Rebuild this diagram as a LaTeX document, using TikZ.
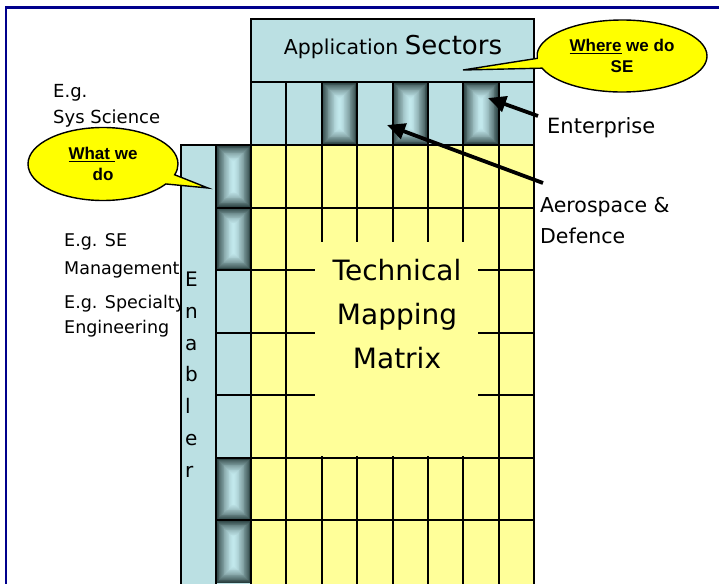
\documentclass[tikz,border=0pt]{standalone}
\usepackage{fontspec}
\setmainfont{DejaVu Sans}
\newfontfamily\calloutfont{Liberation Sans}
\usetikzlibrary{shapes.callouts,arrows.meta}
\definecolor{cellblue}{RGB}{187,224,227}
\definecolor{mtxyellow}{RGB}{255,255,153}
\definecolor{callyellow}{RGB}{255,255,0}
\definecolor{pdark}{RGB}{40,62,62}
\definecolor{plight}{RGB}{194,232,236}
\definecolor{framenavy}{RGB}{0,0,140}
\newcommand\myul[1]{\setbox0\hbox{#1}\rlap{\rule[-2.6pt]{\wd0}{1.4pt}}\box0\relax}
\newcommand\pillowcell[4]{%
  \foreach \i in {0,...,20}{%
    \pgfmathsetmacro\dd{\i*(#3-#1)/2/21}%
    \pgfmathsetmacro\pp{100*(1-\i/20)^1.45}%
    \fill[pdark!\pp!plight] ({#1+\dd},{#2+\dd}) rectangle ({#3-\dd},{#4-\dd});
  }}
\begin{document}
\begin{tikzpicture}[x=1pt,y=-1pt,
  gridline/.style={line width=2pt, draw=black},
  lbl/.style={inner sep=0pt, anchor=base west, align=left},
  arr/.style={line width=3.8pt, -{Triangle[length=18pt,width=16pt]}},
  bubble/.style={ellipse callout, fill=callyellow, draw=black, line width=1.4pt,
    inner sep=0pt, align=center, callout pointer arc=16,
    font=\calloutfont\bfseries\fontsize{17}{20.5}\selectfont}]
\path[use as bounding box] (0,0) rectangle (719,583);
\clip (0,0) rectangle (719,583);
\fill[white] (0,0) rectangle (719,583);
% frame
\draw[framenavy, line width=2.2pt] (6,590) -- (6,7.5) -- (725,7.5);
% left labels (partly hidden by the enabler column); anchored at last baseline
\node[lbl, font=\fontsize{18}{25}\selectfont] (sys) at (53,123) {E.g.\\Sys Science};
\node[lbl, font=\fontsize{17.5}{28}\selectfont] (sem) at (64,274) {E.g. SE\\Management};
\node[lbl, font=\fontsize{17.5}{25}\selectfont] (spe) at (64,333) {E.g. Specialty\\Engineering};
% enabler columns
\fill[cellblue] (181,145) rectangle (251,600);
\foreach \r in {0,1,5,6}{
  \pgfmathsetmacro\ya{145+62.57*\r}
  \pgfmathsetmacro\yb{145+62.57*(\r+1)}
  \pillowcell{216}{\ya}{251}{\yb}
}
% header and sector row
\fill[cellblue] (251,19) rectangle (534,145);
\foreach \c in {2,4,6}{
  \pgfmathsetmacro\xa{251+35.375*\c}
  \pgfmathsetmacro\xb{251+35.375*(\c+1)}
  \pillowcell{\xa}{82}{\xb}{145}
}
% matrix
\fill[mtxyellow] (251,145) rectangle (534,600);
\foreach \k in {0,...,8}
  \draw[gridline] ({251+35.375*\k},82) -- ({251+35.375*\k},600);
\foreach \r in {1,...,6}
  \draw[gridline] (216,{145+62.57*\r}) -- (534,{145+62.57*\r});
\draw[gridline] (181,600) -- (181,145) -- (534,145);
\draw[gridline] (216,145) -- (216,600);
\draw[gridline] (251,19) rectangle (534,145);
\draw[gridline] (251,82) -- (534,82);
\fill[mtxyellow] (315,242) rectangle (478,456);
% texts
\node[inner sep=0pt, anchor=base] (app) at (393,54.5)
  {\fontsize{20.5}{24}\selectfont Application \fontsize{26}{30}\selectfont Sectors};
\node[inner sep=0pt, align=center, font=\fontsize{28}{44}\selectfont] (tmm) at (397,314)
  {Technical\\Mapping\\Matrix};
\node[lbl, font=\fontsize{20}{31.7}\selectfont] (enab) at (185,477) {E\\n\\a\\b\\l\\e\\r};
\node[lbl, font=\fontsize{21}{25}\selectfont] (ent) at (547,133) {Enterprise};
\node[lbl, font=\fontsize{20.5}{31}\selectfont] (aero) at (540,243) {Aerospace \&\\Defence};
% arrows
\coordinate (entTail) at (538,116);
\coordinate (entTip) at (488,98);
\coordinate (aeroTail) at (543,183);
\coordinate (aeroTip) at (387,125);
\draw[arr] (entTail) -- (entTip);
\draw[arr] (aeroTail) -- (aeroTip);
% callouts
\coordinate (whereTip) at (463,70);
\coordinate (whatTip) at (208,188);
\node[bubble, callout absolute pointer={(whereTip)}, minimum width=170pt, minimum height=72pt]
  (where) at (622,56) {\myul{Where} we do\\SE};
\node[bubble, callout absolute pointer={(whatTip)}, minimum width=150pt, minimum height=73pt]
  (what) at (103,164) {\myul{What\ }we\\do};
\end{tikzpicture}
\end{document}
